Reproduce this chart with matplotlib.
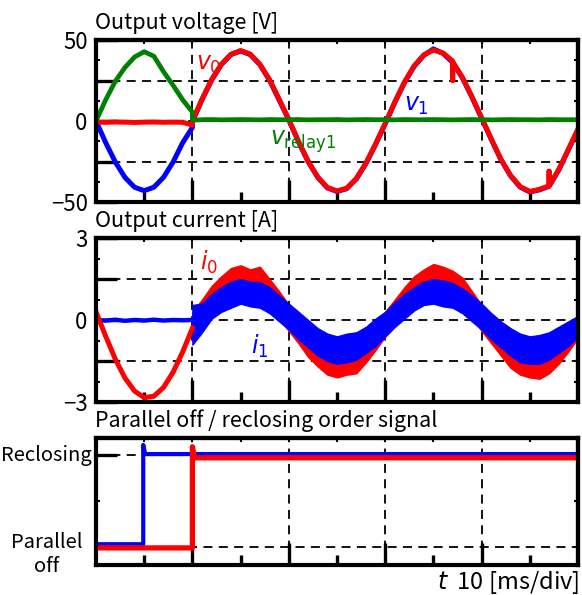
import matplotlib
matplotlib.use("Agg")
import matplotlib.pyplot as plt
import numpy as np

plt.rcParams['font.family'] = ['Noto Sans CJK JP', 'DejaVu Sans']
plt.rcParams['mathtext.fontset'] = 'dejavusans'
plt.rcParams['axes.unicode_minus'] = True

# time axis [ms], 10 ms appears twice for the switching instant
t_ms = [0, 1, 2, 3, 4, 5, 6, 7, 8, 9, 10, 10, 11, 12, 13, 14, 15, 16, 17, 18, 19, 20,
        21, 22, 23, 24, 25, 26, 27, 28, 29, 30, 31, 32, 33, 34, 35, 36, 37, 37, 37, 38,
        39, 40, 41, 42, 43, 44, 45, 46, 47, 47, 47, 48, 49, 50]

# output voltage [V]
v0 = [-0.7, -0.8, -0.6, -0.7, -0.9, -0.7, -0.6, -0.8, -0.7, -0.8, -2.5, 0.0,
      13.5, 25.6, 35.0, 41.2, 43.5, 41.3, 35.0, 25.5, 13.4, 1.0,
      -12.5, -24.8, -34.5, -41.0, -43.2, -41.5, -35.5, -26.0, -14.2, -1.5,
      11.8, 24.0, 34.0, 40.8, 43.8, 42.0, 37.0, 25.0, 36.5, 27.0,
      15.0, 2.0, -11.0, -23.5, -33.5, -40.5, -43.5, -42.2, -40.0, -31.0, -40.0, -30.0, -17.5, -5.0]
v1 = [0.0, -13.3, -25.3, -34.8, -40.9, -43.0, -40.9, -34.8, -25.3, -13.3, -4.0, -0.5,
      13.2, 25.3, 34.8, 41.0, 43.2, 41.0, 34.8, 25.2, 13.0, 0.7,
      -12.8, -25.0, -34.8, -41.3, -43.5, -41.8, -35.8, -26.3, -14.5, -1.8,
      11.5, 23.7, 33.7, 40.5, 44.5, 41.7, 36.2, 36.2, 36.2, 26.7,
      14.7, 1.7, -11.3, -23.8, -33.8, -40.8, -43.8, -42.5, -40.3, -40.3, -40.3, -30.3, -17.8, -5.3]
v_relay1 = [0.0, 13.0, 24.5, 33.0, 39.5, 42.8, 40.0, 30.5, 22.0, 13.0, 5.5, 0.5,
            0.8, 0.9, 0.7, 0.8, 0.9, 0.8, 0.7, 0.9, 0.8, 0.8,
            0.9, 0.7, 0.8, 0.8, 0.9, 0.7, 0.8, 0.9, 0.8, 0.8,
            0.7, 0.9, 0.8, 0.8, 0.9, 0.8, 0.7, 0.7, 0.7, 0.8,
            0.9, 0.8, 0.7, 0.8, 0.9, 0.8, 0.8, 0.7, 0.9, 0.9, 0.9, 0.8, 0.8, 0.8]

# output current [A] before reclosing (0 .. 10 ms)
t_pre = [0, 1, 2, 3, 4, 5, 6, 7, 8, 9, 10]
i0_pre = [0.30, -0.59, -1.43, -2.12, -2.60, -2.84, -2.79, -2.47, -1.91, -1.16, -0.30]
i1_pre = [0.0, -0.02, 0.01, -0.03, 0.0, -0.02, 0.01, -0.02, 0.0, -0.01, 0.0]

# output current [A] after reclosing (10 .. 50 ms), ripple band edges
t_band = [10, 11, 12, 13, 14, 15, 16, 17, 18, 19, 20, 21, 22, 23, 24, 25, 26, 27, 28, 29,
          30, 31, 32, 33, 34, 35, 36, 37, 38, 39, 40, 41, 42, 43, 44, 45, 46, 47, 48, 49, 50]
i0_hi = [0.3, 0.75, 1.25, 1.6, 1.9, 2.0, 1.85, 1.95, 1.5, 1.05, 0.55, 0.15, -0.3, -0.55, -0.9,
         -0.95, -1.0, -0.8, -0.5, -0.1, 0.3, 0.75, 1.2, 1.6, 1.85, 2.05, 1.95, 1.8, 1.55,
         1.05, 0.55, 0.1, -0.3, -0.65, -0.9, -1.0, -0.9, -0.8, -0.5, -0.15, 0.1]
i0_lo = [-0.6, -0.3, 0.2, 0.6, 0.85, 0.95, 0.95, 0.8, 0.5, 0.05, -0.4, -0.85, -1.35, -1.7,
         -2.0, -2.1, -2.0, -1.95, -1.55, -1.1, -0.6, -0.2, 0.25, 0.6, 0.85, 0.95, 0.95,
         0.8, 0.5, 0.1, -0.4, -0.85, -1.3, -1.75, -2.0, -2.1, -2.15, -1.95, -1.6, -1.15, -0.65]
i1_hi = [0.55, 0.6, 0.95, 1.2, 1.4, 1.5, 1.4, 1.38, 1.2, 0.9, 0.6, 0.3, 0.0, -0.3, -0.5,
         -0.6, -0.5, -0.45, -0.25, 0.05, 0.3, 0.65, 0.95, 1.2, 1.4, 1.5, 1.45, 1.35, 1.15,
         0.9, 0.6, 0.25, -0.05, -0.3, -0.5, -0.6, -0.55, -0.45, -0.25, -0.05, 0.15]
i1_lo = [-0.9, -0.45, 0.05, 0.3, 0.45, 0.6, 0.5, 0.45, 0.25, -0.05, -0.35, -0.7, -1.0, -1.3,
         -1.5, -1.6, -1.55, -1.45, -1.2, -0.95, -0.6, -0.25, 0.05, 0.35, 0.55, 0.6, 0.5,
         0.45, 0.25, -0.05, -0.35, -0.7, -1.0, -1.3, -1.55, -1.6, -1.6, -1.45, -1.2, -0.95, -0.6]

# order signals (0 = parallel off, 1 = reclosing)
t_sig1 = [0, 4.9, 4.9, 5.1, 50]
sig1 = [0.03, 0.03, 1.11, 1.01, 1.01]
t_sig0 = [0, 10, 10, 10.2, 50]
sig0 = [-0.01, -0.01, 1.09, 0.97, 0.97]

RED = '#ff0000'
BLUE = '#0000ff'
GREEN = '#008000'
FS = 15.5


def style_axes(ax, yticks, ylabels, yminor):
    ax.set_xlim(0, 50)
    ax.set_ylim(yticks[0], yticks[-1])
    ax.set_xticks([10, 20, 30, 40])
    ax.set_xticks([5, 15, 25, 35, 45], minor=True)
    ax.set_xticklabels([])
    ax.set_yticks(yticks)
    ax.set_yticklabels(ylabels, fontsize=16)
    ax.set_yticks(yminor, minor=True)
    ax.tick_params(axis='x', which='major', direction='in', length=16, width=2.4)
    ax.tick_params(axis='x', which='minor', direction='in', length=7.5, width=2.4)
    ax.tick_params(axis='y', which='major', direction='in', length=15, width=2.4, pad=6)
    ax.tick_params(axis='y', which='minor', direction='in', length=3, width=1.5)
    ax.grid(True, which='major', color='k', linestyle=(0, (5, 3.5)), linewidth=1.3)
    ax.set_axisbelow(True)
    for s in ax.spines.values():
        s.set_linewidth(3)
    # small ticks on top and right frame
    top = ax.secondary_xaxis('top')
    top.set_xticks([5, 10, 15, 20, 25, 30, 35, 40, 45])
    top.set_xticklabels([])
    top.tick_params(direction='in', length=3, width=1.5)
    top.spines['top'].set_linewidth(3)
    rgt = ax.secondary_yaxis('right')
    rgt.set_yticks(list(yminor) + list(yticks[1:-1]))
    rgt.set_yticklabels([])
    rgt.tick_params(direction='in', length=3, width=1.5)
    rgt.spines['right'].set_linewidth(3)


def add_title(ax, text):
    ax.annotate(text, xy=(0, 1), xycoords='axes fraction', xytext=(-1, 4),
                textcoords='offset points', ha='left', va='bottom', fontsize=FS)


fig = plt.figure(figsize=(5.82, 5.95), dpi=100)
W, H = 582, 595
ax1 = fig.add_axes([96 / W, 1 - 202 / H, 482 / W, 162 / H])
ax2 = fig.add_axes([96 / W, 1 - 402 / H, 482 / W, 164 / H])
ax3 = fig.add_axes([96 / W, 1 - 565 / H, 482 / W, 127 / H])

# output voltage
ax1.plot(t_ms, v1, color=BLUE, lw=3.6, solid_joinstyle='round')
ax1.plot(t_ms, v0, color=RED, lw=3.6, solid_joinstyle='round')
ax1.plot(t_ms, v_relay1, color=GREEN, lw=3.4, solid_joinstyle='round')
style_axes(ax1, [-50, -25, 0, 25, 50], ['\u221250', '', '0', '', '50'], [-37.5, -12.5, 12.5, 37.5])
add_title(ax1, 'Output voltage [V]')
ax1.text(10.4, 35, r'$v_0$', color=RED, fontsize=17, va='center')
ax1.text(31.9, 9.5, r'$v_1$', color=BLUE, fontsize=17, va='center')
ax1.text(18.1, -12.5, r'$v_{\mathrm{relay1}}$', color=GREEN, fontsize=17, va='center')

# output current
ax2.plot(t_pre, i1_pre, color=BLUE, lw=3.2)
ax2.plot(t_pre, i0_pre, color=RED, lw=3.6, solid_joinstyle='round')
ax2.fill_between(t_band, i0_lo, i0_hi, color=RED, lw=1)
ax2.fill_between(t_band, i1_lo, i1_hi, color=BLUE, lw=1)
style_axes(ax2, [-3, -1.5, 0, 1.5, 3], ['\u22123', '', '0', '', '3'], [-2.25, -0.75, 0.75, 2.25])
add_title(ax2, 'Output current [A]')
ax2.text(10.8, 2.1, r'$i_0$', color=RED, fontsize=17, va='center')
ax2.text(16.1, -0.95, r'$i_1$', color=BLUE, fontsize=17, va='center')

# order signals
ax3.plot(t_sig1, sig1, color=BLUE, lw=3.0)
ax3.plot(t_sig0, sig0, color=RED, lw=3.8)
style_axes(ax3, [-0.196, 0, 1, 1.185], ['', '', '', ''], [0.5])
ax3.set_yticks([0, 1])
ax3.set_yticklabels([])
ax3.set_ylim(-0.196, 1.185)
ax3.text(-0.102, 1, 'Reclosing', transform=ax3.get_yaxis_transform(), ha='center', va='center', fontsize=14.5)
ax3.text(-0.102, -0.08, 'Parallel\noff', transform=ax3.get_yaxis_transform(), ha='center', va='center',
         fontsize=14.5, linespacing=1.2)
add_title(ax3, 'Parallel off / reclosing order signal')
ax3.annotate(r'$t$  10 [ms/div]', xy=(1, 0), xycoords='axes fraction', xytext=(1, -3),
             textcoords='offset points', ha='right', va='top', fontsize=17)

fig.savefig('out.png', dpi=100)
